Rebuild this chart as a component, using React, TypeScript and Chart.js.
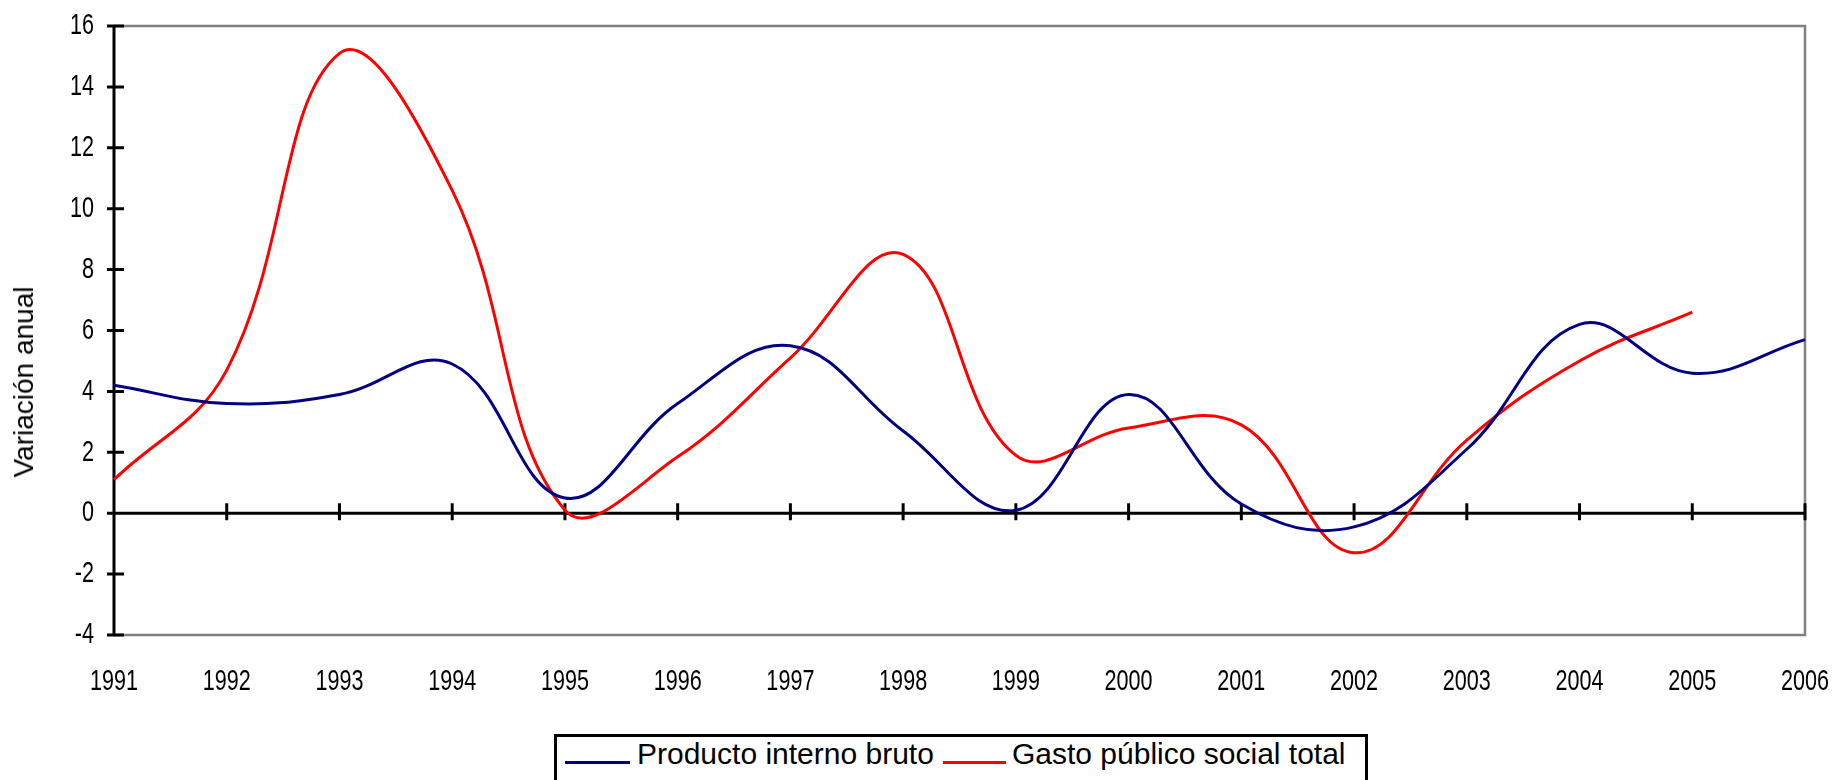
import React, { useEffect, useRef } from "react";
import { Chart, registerables } from "chart.js";

Chart.register(...registerables);

const years = ["1991", "1992", "1993", "1994", "1995", "1996", "1997", "1998", "1999", "2000", "2001", "2002", "2003", "2004", "2005", "2006"];
const pib = [4.2, 3.6, 3.9, 4.9, 0.5, 3.6, 5.5, 2.7, 0.1, 3.9, 0.3, -0.45, 2.1, 6.2, 4.6, 5.7];
const gasto = [1.1, 4.7, 15.1, 10.6, 0.1, 1.85, 5.1, 8.5, 1.9, 2.8, 2.9, -1.3, 2.4, 5.0, 6.6, null];
const yMin = -4;
const yMax = 16;
const yStep = 2;
const seriesNames = ["Producto interno bruto", "Gasto público social total"];
const axisTitle = "Variación anual";

const NAVY = "#000080";
const RED = "#ff0000";
const TEXT_FONT = "'Liberation Sans', Arial, sans-serif";
const TICK_FONT_PX = 30;
const TICK_SQUEEZE = 0.72;

function drawSqueezed(ctx: CanvasRenderingContext2D, text: string, x: number, y: number, align: CanvasTextAlign) {
  ctx.save();
  ctx.translate(x, y);
  ctx.scale(TICK_SQUEEZE, 1);
  ctx.textAlign = align;
  ctx.textBaseline = "middle";
  ctx.fillText(text, 0, 0);
  ctx.restore();
}

const framePlugin = {
  id: "frame",
  beforeDatasetsDraw(chart: any) {
    const { ctx, chartArea: a, scales } = chart;
    const x = scales.x;
    const y = scales.y;
    ctx.save();
    ctx.strokeStyle = "#808080";
    ctx.lineWidth = 2.5;
    ctx.beginPath();
    ctx.moveTo(a.left, a.top);
    ctx.lineTo(a.right, a.top);
    ctx.lineTo(a.right, a.bottom);
    ctx.lineTo(a.left, a.bottom);
    ctx.stroke();

    ctx.strokeStyle = "#000";
    ctx.lineWidth = 3;
    ctx.beginPath();
    ctx.moveTo(a.left, a.top);
    ctx.lineTo(a.left, a.bottom);
    for (const t of y.ticks) {
      const py = y.getPixelForValue(t.value);
      ctx.moveTo(a.left - 7, py);
      ctx.lineTo(a.left + 10, py);
    }
    const y0 = y.getPixelForValue(0);
    ctx.moveTo(a.left - 7, y0);
    ctx.lineTo(a.right, y0);
    for (let i = 1; i < years.length; i++) {
      const px = x.getPixelForValue(i);
      ctx.moveTo(px, y0 - 10);
      ctx.lineTo(px, y0 + 7);
    }
    ctx.stroke();

    // tick labels (condensed), positioned by the chart's scales
    ctx.fillStyle = "#000";
    ctx.font = `${TICK_FONT_PX}px ${TEXT_FONT}`;
    for (const t of y.ticks) {
      const py = y.getPixelForValue(t.value);
      drawSqueezed(ctx, String(t.value), a.left - 20, py, "right");
    }
    for (let i = 0; i < years.length; i++) {
      const px = x.getPixelForValue(i);
      drawSqueezed(ctx, String(x.getLabelForValue(i)), px, a.bottom + 47, "center");
    }
    ctx.restore();
  },
};

export default function App() {
  const ref = useRef<HTMLCanvasElement | null>(null);

  useEffect(() => {
    document.body.style.margin = "0";
    const canvas = ref.current;
    if (!canvas) return;
    const chart = new Chart(canvas, {
      type: "line",
      data: {
        labels: years,
        datasets: [
          {
            label: seriesNames[0],
            data: pib,
            borderColor: NAVY,
            backgroundColor: NAVY,
            borderWidth: 3,
            pointRadius: 0,
            tension: 0.4,
            fill: false,
          },
          {
            label: seriesNames[1],
            data: gasto,
            borderColor: RED,
            backgroundColor: RED,
            borderWidth: 3,
            pointRadius: 0,
            tension: 0.4,
            fill: false,
          },
        ],
      },
      options: {
        responsive: false,
        animation: false,
        devicePixelRatio: 1,
        layout: { padding: { left: 0, top: 26, right: 36, bottom: 65 } },
        plugins: {
          legend: { display: false },
          tooltip: { enabled: false },
          title: { display: false },
        },
        scales: {
          x: {
            type: "category",
            offset: false,
            grid: { display: false, drawTicks: false, tickLength: 0 },
            border: { display: false },
            ticks: { display: false, autoSkip: false },
            afterFit: (s: any) => {
              s.height = 80;
            },
          },
          y: {
            min: yMin,
            max: yMax,
            grid: { display: false, drawTicks: false, tickLength: 0 },
            border: { display: false },
            ticks: { display: false, stepSize: yStep },
            afterFit: (s: any) => {
              s.width = 114;
            },
          },
        },
      },
      plugins: [framePlugin],
    });
    return () => chart.destroy();
  }, []);

  return (
    <div style={{ position: "relative", width: 1841, height: 780, overflow: "hidden", background: "#fff" }}>
      <canvas ref={ref} width={1841} height={780} style={{ position: "absolute", left: 0, top: 0 }} />
      <div
        style={{
          position: "absolute",
          left: 24,
          top: 382,
          transform: "translate(-50%, -50%) rotate(-90deg)",
          fontFamily: TEXT_FONT,
          fontSize: 28,
          lineHeight: 1,
          whiteSpace: "nowrap",
          color: "#000",
        }}
      >
        {axisTitle}
      </div>
      <div
        style={{
          position: "absolute",
          left: 554,
          top: 734,
          width: 814,
          height: 70,
          boxSizing: "border-box",
          border: "3px solid #000",
          background: "#fff",
        }}
      >
        <div style={{ position: "absolute", left: 8, top: 24, width: 65, height: 3, background: NAVY }} />
        <span style={{ position: "absolute", left: 80, top: 2, fontFamily: TEXT_FONT, fontSize: 30, lineHeight: 1, whiteSpace: "nowrap", color: "#000" }}>
          {seriesNames[0]}
        </span>
        <div style={{ position: "absolute", left: 386, top: 24, width: 63, height: 3, background: RED }} />
        <span style={{ position: "absolute", left: 455, top: 2, fontFamily: TEXT_FONT, fontSize: 30, lineHeight: 1, whiteSpace: "nowrap", color: "#000" }}>
          {seriesNames[1]}
        </span>
      </div>
    </div>
  );
}
